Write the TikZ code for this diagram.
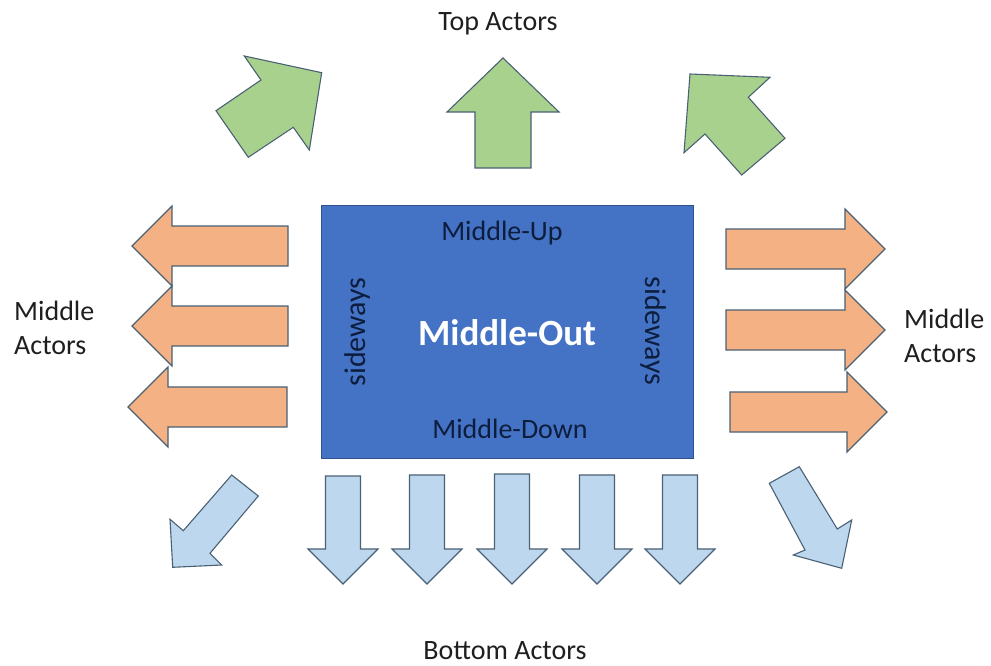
\documentclass[tikz,border=0pt]{standalone}
\usepackage{fontspec}
\setmainfont{Carlito}
\definecolor{topgreen}{HTML}{A9D18E}
\definecolor{sideorange}{HTML}{F4B183}
\definecolor{bottomblue}{HTML}{BDD7EE}
\definecolor{corefill}{HTML}{4472C4}
\definecolor{coreline}{HTML}{2F528F}
\definecolor{shapeline}{HTML}{4A6074}
\definecolor{coretext}{HTML}{0D1D3D}
\begin{document}
\begin{tikzpicture}[x = 1pt, y = -1pt,
    actorarrow/.style = {draw = shapeline, line width = 1.1pt, line join = miter},
    toparrow/.style = {actorarrow, fill = topgreen},
    sidearrow/.style = {actorarrow, fill = sideorange},
    downarrow/.style = {actorarrow, fill = bottomblue},
    actorlabel/.style = {font = \fontsize{28}{32}\selectfont, text = black!88, inner sep = 0pt},
    corelabel/.style = {font = \fontsize{28}{32}\selectfont, text = coretext, inner sep = 0pt}
]
    \useasboundingbox (0, 0) rectangle (991, 666);
    % middle-out block
    \draw [fill = corefill, draw = coreline, line width = 1pt] (321, 205) rectangle (693, 458);
    \node [corelabel, anchor = base] (middleup) at (502, 240) {Middle-Up};
    \node [corelabel, anchor = base] (middledown) at (510, 438) {Middle-Down};
    \node [font = \bfseries\fontsize{37}{44}\selectfont, text = white, inner sep = 0pt, anchor = base] (middleout) at (507, 345) {Middle-Out};
    \node [corelabel, font = \fontsize{30}{34}\selectfont, rotate = 90] (sidewaysleft) at (357, 332) {sideways};
    \node [corelabel, font = \fontsize{30}{34}\selectfont, rotate = -90] (sidewaysright) at (653, 331) {sideways};

    % top actors
    \draw [toparrow]
        (216, 110.7) -- (261, 80) -- (244.3, 56) -- (321.7, 72.7)
        -- (309.3, 150) -- (293.3, 127.3) -- (248.3, 157.3) -- cycle
    ;
    \draw [toparrow]
        (475, 168) -- (475, 112) -- (447, 112) -- (503, 58)
        -- (559, 112) -- (531, 112) -- (531, 168) -- cycle
    ;
    \draw [toparrow]
        (690, 74) -- (770, 77.3) -- (748.3, 97.3) -- (785, 138.3)
        -- (741.7, 175) -- (705, 134) -- (684, 152.7) -- cycle
    ;
    \node [actorlabel, anchor = base] (topactors) at (498, 31) {Top Actors};

    % middle actors
    \foreach \y/\r/\t in {246/288/132, 326/288/132, 407/287/128}
        \draw [sidearrow] (\r, \y-20) -- (\t+40, \y-20) -- (\t+40, \y-40) -- (\t, \y)
            -- (\t+40, \y+40) -- (\t+40, \y+20) -- (\r, \y+20) -- cycle;
    \foreach \y/\l/\t in {249/726/885, 330/726/885, 412/730/887}
        \draw [sidearrow] (\l, \y-20) -- (\t-40, \y-20) -- (\t-40, \y-40) -- (\t, \y)
            -- (\t-40, \y+40) -- (\t-40, \y+20) -- (\l, \y+20) -- cycle;
    \node [actorlabel, anchor = base west] (leftmiddle) at (14, 320) {Middle};
    \node [actorlabel, anchor = base west] (leftactors) at (14, 354) {Actors};
    \node [actorlabel, anchor = base west] (rightmiddle) at (904, 328) {Middle};
    \node [actorlabel, anchor = base west] (rightactors) at (904, 362) {Actors};

    % bottom actors
    \foreach \x/\s in {343/476, 427/475, 512/474, 597/475, 680/475}
        \draw [downarrow] (\x-17.5, \s) -- (\x-17.5, 549) -- (\x-35, 549) -- (\x, 584)
            -- (\x+35, 549) -- (\x+17.5, 549) -- (\x+17.5, \s) -- cycle;
    \draw [downarrow]
        (231.7, 475) -- (258.3, 496) -- (210, 553.3) -- (221.7, 565)
        -- (172.7, 567.3) -- (170, 519.3) -- (183.3, 530.7) -- cycle
    ;
    \draw [downarrow]
        (769.3, 483.3) -- (799.3, 466.7) -- (837.3, 529) -- (851.7, 520)
        -- (841.7, 568.3) -- (793.3, 555) -- (805, 550) -- cycle
    ;
    \node [actorlabel, anchor = base] (bottomactors) at (505, 659) {Bottom Actors};
\end{tikzpicture}
\end{document}
